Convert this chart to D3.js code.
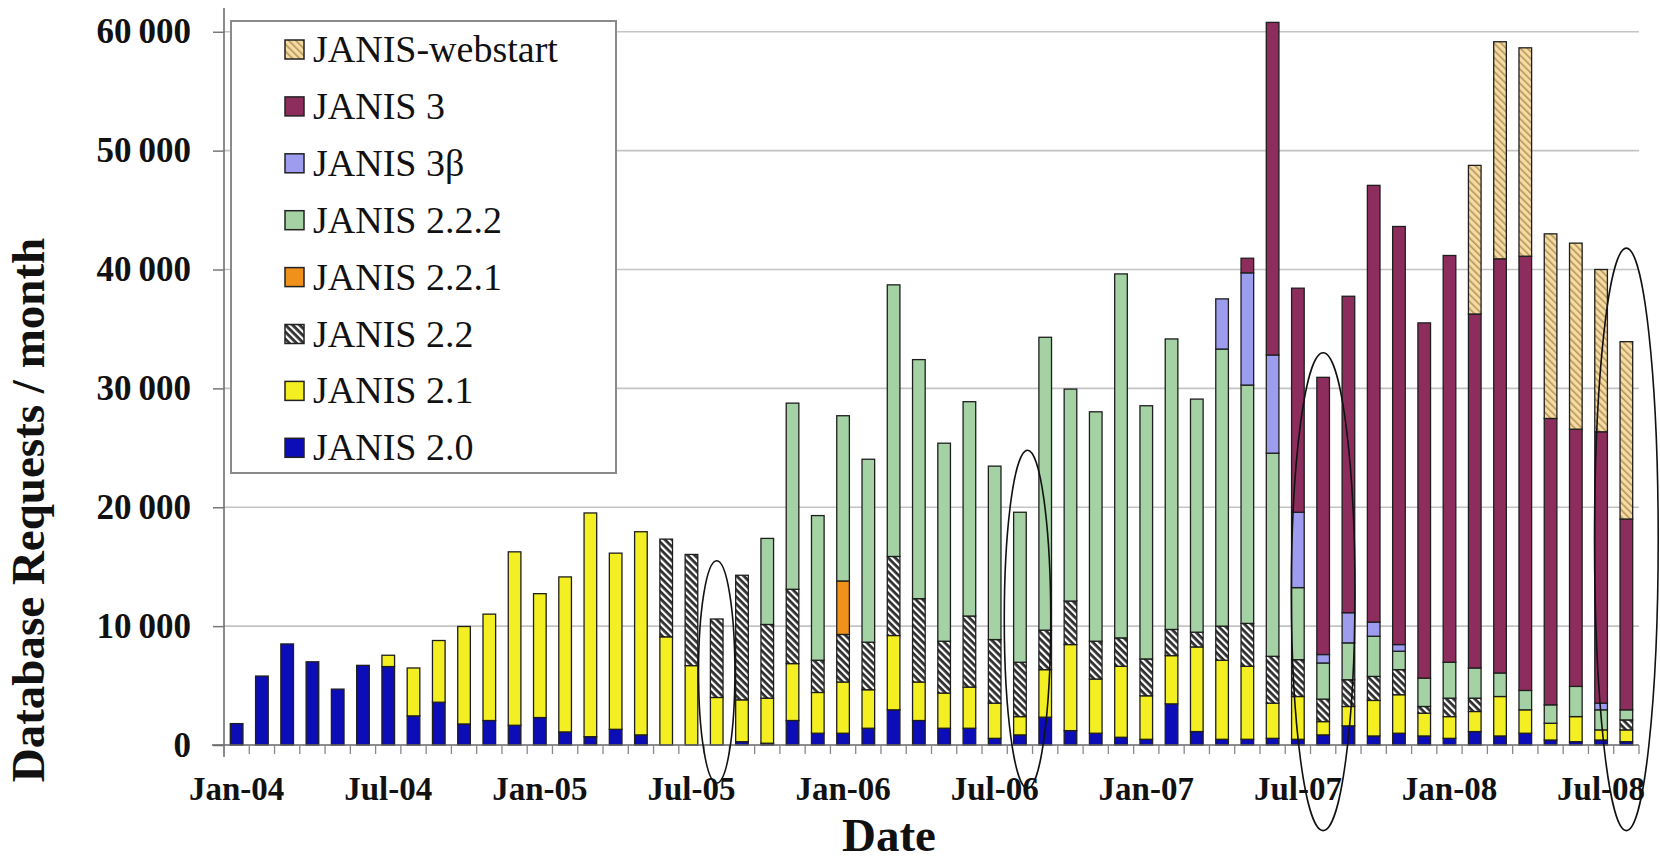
<!DOCTYPE html>
<html>
<head>
<meta charset="utf-8">
<script src="https://cdn.jsdelivr.net/npm/d3@7"></script>
<style>
body { margin: 0; background: #fff; }
</style>
</head>
<body>
<div id="chart"></div>
<script>
var months = ["Jan-04","Feb-04","Mar-04","Apr-04","May-04","Jun-04","Jul-04","Aug-04","Sep-04","Oct-04","Nov-04","Dec-04",
    "Jan-05","Feb-05","Mar-05","Apr-05","May-05","Jun-05","Jul-05","Aug-05","Sep-05","Oct-05","Nov-05","Dec-05",
    "Jan-06","Feb-06","Mar-06","Apr-06","May-06","Jun-06","Jul-06","Aug-06","Sep-06","Oct-06","Nov-06","Dec-06",
    "Jan-07","Feb-07","Mar-07","Apr-07","May-07","Jun-07","Jul-07","Aug-07","Sep-07","Oct-07","Nov-07","Dec-07",
    "Jan-08","Feb-08","Mar-08","Apr-08","May-08","Jun-08","Jul-08","Aug-08"];
var tickLabels = ["Jan-04","Jul-04","Jan-05","Jul-05","Jan-06","Jul-06","Jan-07","Jul-07","Jan-08","Jul-08"];
var yTicks = [0, 10000, 20000, 30000, 40000, 50000, 60000];

var janis20 = [1800,5800,8500,7000,4700,6700,6600,2450,3600,1770,2060,1660,2310,1100,700,1320,850,0,0,0,280,150,2060,990,
    990,1410,2960,2060,1410,1410,560,850,2340,1210,990,650,480,3460,1130,480,480,560,480,850,1610,760,990,760,560,1130,760,990,420,280,420,280];
var janis21 = [0,0,0,0,0,0,950,4030,5190,8200,8950,14590,10420,13040,18820,14820,17090,9100,6680,4000,3520,3790,4790,3430,
    4310,3240,6250,3240,2960,3460,2960,1540,4000,7240,4560,5970,3660,4060,7120,6650,6140,2960,3600,1120,1630,2990,3240,1920,1830,1690,3320,1970,1410,2110,850,990];
var janis22 = [0,0,0,0,0,0,0,0,0,0,0,0,0,0,0,0,0,8220,9350,6600,10480,6200,6250,2710,
    4000,4000,6650,7010,4360,5980,5350,4570,3320,3660,3180,2390,3100,2200,1240,2870,3610,3940,3100,1890,2250,2020,2110,560,1550,1120,0,0,0,0,0,840];
var janis221 = [0,0,0,0,0,0,0,0,0,0,0,0,0,0,0,0,0,0,0,0,0,0,0,0,
    4500,0,0,0,0,0,0,0,0,0,0,0,0,0,0,0,0,0,0,0,0,0,0,0,0,0,0,0,0,0,0,0];
var janis222 = [0,0,0,0,0,0,0,0,0,0,0,0,0,0,0,0,0,0,0,0,0,7240,15660,12170,
    13900,15390,22850,20110,16660,18030,14590,12620,24640,17830,19300,30620,21300,24440,19610,23310,20050,17090,6060,3040,3100,3380,1550,2390,3020,2540,1980,1630,1550,2540,1690,850];
var janis3b = [0,0,0,0,0,0,0,0,0,0,0,0,0,0,0,0,0,0,0,0,0,0,0,0,
    0,0,0,0,0,0,0,0,0,0,0,0,0,0,0,4220,9440,8260,6340,710,2540,1190,560,0,0,0,0,0,0,0,560,0];
var janis3 = [0,0,0,0,0,0,0,0,0,0,0,0,0,0,0,0,0,0,0,0,0,0,0,0,
    0,0,0,0,0,0,0,0,0,0,0,0,0,0,0,0,1230,27980,18850,23320,26620,36740,35170,29880,34220,29780,34840,36530,24090,21640,22830,16050];
var janisWeb = [0,0,0,0,0,0,0,0,0,0,0,0,0,0,0,0,0,0,0,0,0,0,0,0,
    0,0,0,0,0,0,0,0,0,0,0,0,0,0,0,0,0,0,0,0,0,0,0,0,0,12500,18260,17530,15530,15650,13650,14920];

// circled months: month, top value, bottom value
var circleMonths = ["Aug-05", "Aug-06", "Aug-07", "Aug-08"];
var circleTop = [15500, 24800, 33000, 41800];
var circleBottom = [-3200, -3650, -7200, -7200];

var series = [
    {key: "j20", name: "JANIS 2.0", values: janis20, fill: "#0d0db8"},
    {key: "j21", name: "JANIS 2.1", values: janis21, fill: "#f4ef22"},
    {key: "j22", name: "JANIS 2.2", values: janis22, fill: "url(#hatch22)"},
    {key: "j221", name: "JANIS 2.2.1", values: janis221, fill: "#f0911c"},
    {key: "j222", name: "JANIS 2.2.2", values: janis222, fill: "#a4d2a4"},
    {key: "j3b", name: "JANIS 3\u03b2", values: janis3b, fill: "#9d9cef"},
    {key: "j3", name: "JANIS 3", values: janis3, fill: "#8d2d5d"},
    {key: "web", name: "JANIS-webstart", values: janisWeb, fill: "url(#hatchWeb)"}
];

var width = 1660, height = 862;
var svg = d3.select("#chart").append("svg")
    .attr("width", width)
    .attr("height", height);

var defs = svg.append("defs");
var p1 = defs.append("pattern")
    .attr("id", "hatch22")
    .attr("patternUnits", "userSpaceOnUse")
    .attr("width", 5).attr("height", 5)
    .attr("patternTransform", "rotate(-45)");
p1.append("rect").attr("width", 5).attr("height", 5).attr("fill", "#2e2e2e");
p1.append("rect").attr("width", 2.2).attr("height", 5).attr("fill", "#fff");
var p2 = defs.append("pattern")
    .attr("id", "hatchWeb")
    .attr("patternUnits", "userSpaceOnUse")
    .attr("width", 5).attr("height", 5)
    .attr("patternTransform", "rotate(-45)");
p2.append("rect").attr("width", 5).attr("height", 5).attr("fill", "#f4dca4");
p2.append("rect").attr("width", 1.6).attr("height", 5).attr("fill", "#b8955a");

var x = d3.scaleBand().domain(months).range([224, 1639]).paddingInner(0.5).paddingOuter(0.25);
var y = d3.scaleLinear().domain([0, 62000]).range([745, 8]);

// gridlines
svg.append("g").selectAll("line")
    .data(yTicks.filter(function(d) { return d > 0; }))
    .enter().append("line")
    .attr("x1", 224).attr("x2", 1639)
    .attr("y1", function(d) { return y(d); })
    .attr("y2", function(d) { return y(d); })
    .attr("stroke", "#c4c4c4")
    .attr("stroke-width", 1.6);

// y axis
var yAxis = svg.append("g")
    .attr("transform", "translate(224,0)")
    .call(d3.axisLeft(y).tickValues(yTicks).tickSize(11)
        .tickFormat(function(d) { return d3.format(",")(d).replace(",", "\u2009"); }));
yAxis.select(".domain").attr("stroke", "#666").attr("stroke-width", 1.5)
    .attr("d", "M0," + y(62000) + "V" + (y(0) + 12));
yAxis.selectAll(".tick line").attr("stroke", "#777").attr("stroke-width", 1.5);
yAxis.selectAll(".tick text")
    .attr("x", -33)
    .attr("font-family", "'Liberation Serif', 'Times New Roman', serif")
    .attr("font-weight", "bold")
    .attr("font-size", 35)
    .attr("fill", "#111");

// stacked bars
var table = months.map(function(m, i) {
    var row = {month: m};
    series.forEach(function(s) { row[s.key] = s.values[i]; });
    return row;
});
var stack = d3.stack().keys(series.map(function(s) { return s.key; }));
var layers = stack(table);

svg.append("g").selectAll("g")
    .data(layers)
    .enter().append("g")
    .attr("fill", function(d, i) { return series[i].fill; })
    .selectAll("rect")
    .data(function(d) { return d.filter(function(p) { return p[1] - p[0] > 0; }); })
    .enter().append("rect")
    .attr("x", function(d) { return x(d.data.month); })
    .attr("width", x.bandwidth())
    .attr("y", function(d) { return y(d[1]); })
    .attr("height", function(d) { return y(d[0]) - y(d[1]); })
    .attr("stroke", "#1e1e1e")
    .attr("stroke-width", 1.3);

// x axis
var step = x.step();
var xAxisG = svg.append("g");
xAxisG.append("line")
    .attr("x1", 212).attr("x2", 1639)
    .attr("y1", y(0)).attr("y2", y(0))
    .attr("stroke", "#666").attr("stroke-width", 1.5);
xAxisG.selectAll(".xt")
    .data(months.concat(["end"]))
    .enter().append("line")
    .attr("class", "xt")
    .attr("x1", function(d, i) { return 224 + i * step; })
    .attr("x2", function(d, i) { return 224 + i * step; })
    .attr("y1", y(0))
    .attr("y2", y(0) + 9)
    .attr("stroke", "#888").attr("stroke-width", 1.3);
xAxisG.selectAll("text")
    .data(tickLabels)
    .enter().append("text")
    .attr("x", function(d) { return x(d) + x.bandwidth() / 2; })
    .attr("y", 800)
    .attr("text-anchor", "middle")
    .attr("font-family", "'Liberation Serif', 'Times New Roman', serif")
    .attr("font-weight", "bold")
    .attr("font-size", 33)
    .attr("fill", "#111")
    .text(function(d) { return d; });

// axis titles
svg.append("text")
    .attr("transform", "translate(44,510) rotate(-90)")
    .attr("text-anchor", "middle")
    .attr("font-family", "'Liberation Serif', 'Times New Roman', serif")
    .attr("font-weight", "bold")
    .attr("font-size", 47)
    .attr("fill", "#111")
    .text("Database Requests / month");

svg.append("text")
    .attr("x", 889)
    .attr("y", 851)
    .attr("text-anchor", "middle")
    .attr("font-family", "'Liberation Serif', 'Times New Roman', serif")
    .attr("font-weight", "bold")
    .attr("font-size", 47)
    .attr("fill", "#111")
    .text("Date");

// ellipses
svg.append("g").selectAll("ellipse")
    .data(circleMonths)
    .enter().append("ellipse")
    .attr("cx", function(d, i) { return x(d) + x.bandwidth() / 2 + (i == 1 ? step * 0.3 : 0); })
    .attr("cy", function(d, i) { return (y(circleTop[i]) + y(circleBottom[i])) / 2; })
    .attr("rx", function(d, i) { return step * [0.72, 0.92, 1.26, 1.26][i]; })
    .attr("ry", function(d, i) { return (y(circleBottom[i]) - y(circleTop[i])) / 2; })
    .attr("fill", "none")
    .attr("stroke", "#111")
    .attr("stroke-width", 1.6);

// legend
var legend = svg.append("g");
legend.append("rect")
    .attr("x", 231).attr("y", 21)
    .attr("width", 385).attr("height", 452)
    .attr("fill", "#fff")
    .attr("stroke", "#8a8a8a")
    .attr("stroke-width", 2);
var legendItems = series.slice().reverse();
var li = legend.selectAll(".li")
    .data(legendItems)
    .enter().append("g")
    .attr("class", "li")
    .attr("transform", function(d, i) { return "translate(0," + (50 + i * 56.9) + ")"; });
li.append("rect")
    .attr("x", 285).attr("y", -10)
    .attr("width", 19).attr("height", 19)
    .attr("fill", function(d) { return d.fill; })
    .attr("stroke", "#222")
    .attr("stroke-width", 1.5);
li.append("text")
    .attr("x", 313)
    .attr("y", 12)
    .attr("font-family", "'Liberation Serif', 'Times New Roman', serif")
    .attr("font-size", 38)
    .attr("fill", "#111")
    .text(function(d) { return d.name; });
</script>
</body>
</html>
